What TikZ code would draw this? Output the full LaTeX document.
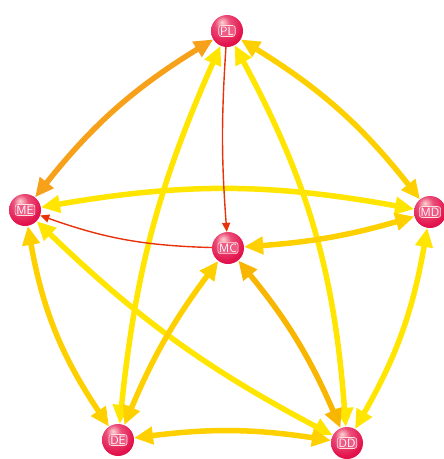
\documentclass[tikz,border=0pt]{standalone}
\usetikzlibrary{arrows.meta, shadings, backgrounds}

\definecolor{ballred}{HTML}{E3124C}
\definecolor{boxpink}{HTML}{EE5C86}
\definecolor{linkyellow}{HTML}{FFE500}
\definecolor{linkgold}{HTML}{FFD000}
\definecolor{linkamber}{HTML}{F9B600}
\definecolor{linkorange}{HTML}{F7A11A}
\definecolor{linkred}{HTML}{E8320A}

\pgfdeclareradialshading{redball}{\pgfpoint{-8bp}{14bp}}{%
  color(0bp)=(pink!70!white); color(12bp)=(ballred!75!white);
  color(30bp)=(ballred); color(58bp)=(ballred!80!black); color(80bp)=(ballred!80!black)}

\begin{document}
\begin{tikzpicture}[x=1pt, y=-1pt,
  ball/.style={circle, minimum size=32pt, inner sep=0pt, shading=redball},
  tag/.style={rounded corners=2.5pt, fill=boxpink, draw=pink!50, line width=0.6pt,
              inner sep=1.3pt, text=white, font=\sffamily\fontsize{12}{12}\selectfont},
  link/.style={line width=5.5pt, {Triangle[length=19pt,width=17pt]}-{Triangle[length=19pt,width=17pt]}},
  thin/.style={line width=1.4pt, color=linkred, -{Triangle[length=9pt,width=8pt]}},
]
\useasboundingbox (0,0) rectangle (444,459);

% Nodes
\node[ball, label={[tag]center:PL}] (pl) at (227,31) {};
\node[ball, label={[tag]center:ME}] (me) at (25,210) {};
\node[ball, label={[tag]center:MD}] (md) at (430,212) {};
\node[ball, label={[tag]center:MC}] (mc) at (228,248) {};
\node[ball, label={[tag]center:DE}] (de) at (118,440) {};
\node[ball, label={[tag]center:DD}] (dd) at (347,443) {};

% Links
\begin{scope}[on background layer]
  \draw[link, linkorange] (pl) to[bend right=10] (me);
  \draw[link, linkgold] (pl) to[bend left=10] (md);
  \draw[link, linkyellow] (pl) to[bend right=9] (de);
  \draw[link, linkyellow] (pl) to[bend left=12] (dd);
  \draw[link, linkyellow] (me) to[bend left=10] (md);
  \draw[link, linkgold] (md) to[bend left=6] (mc);
  \draw[link, linkgold] (me) to[bend right=12] (de);
  \draw[link, linkyellow] (me) to[bend right=8] (dd);
  \draw[link, linkyellow] (md) to[bend left=10] (dd);
  \draw[link, linkgold] (de) to[bend left=8] (dd);
  \draw[link, linkgold] (de) to[bend left=7] (mc);
  \draw[link, linkamber] (mc) to[bend left=8] (dd);
  % single links
  \draw[thin] (pl) to[bend right=4] (mc);
  \draw[thin] (mc) to[bend left=9] (me);
\end{scope}

\end{tikzpicture}
\end{document}
